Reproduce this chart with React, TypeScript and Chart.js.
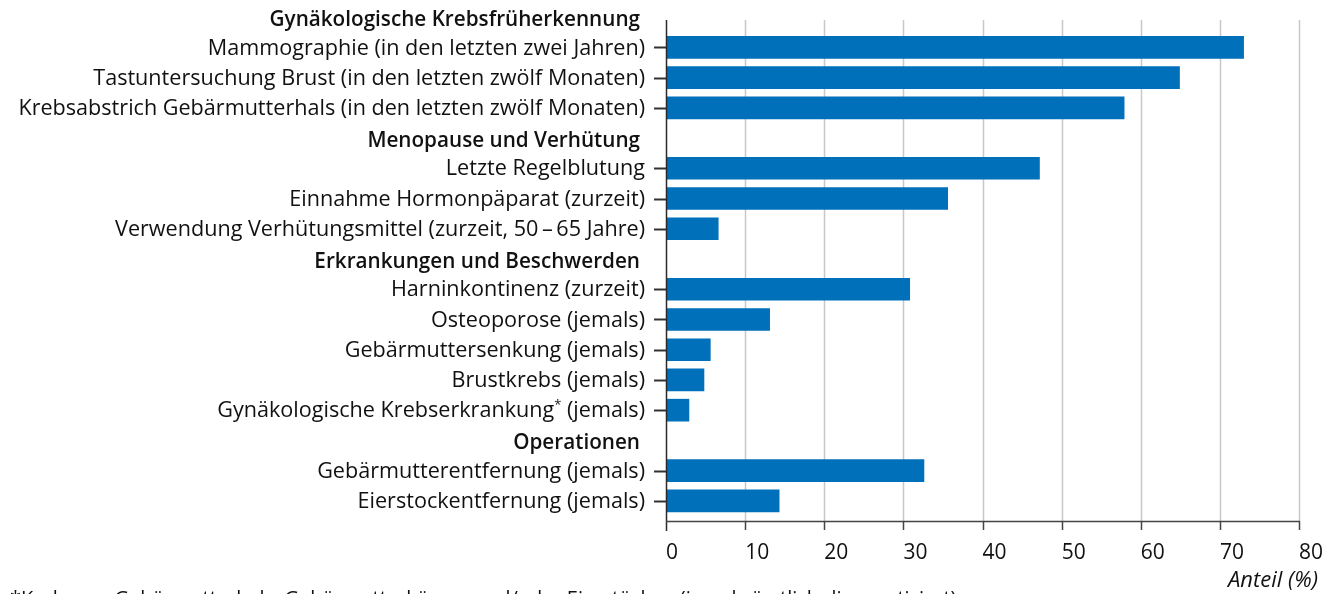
import { useEffect, useRef } from "react";
import { Chart, registerables } from "chart.js";

Chart.register(...registerables);

const categories = [
  "Gynäkologische Krebsfrüherkennung",
  "Mammographie (in den letzten zwei Jahren)",
  "Tastuntersuchung Brust (in den letzten zwölf Monaten)",
  "Krebsabstrich Gebärmutterhals (in den letzten zwölf Monaten)",
  "Menopause und Verhütung",
  "Letzte Regelblutung",
  "Einnahme Hormonpäparat (zurzeit)",
  "Verwendung Verhütungsmittel (zurzeit, 50\u2009–\u200965 Jahre)",
  "Erkrankungen und Beschwerden",
  "Harninkontinenz (zurzeit)",
  "Osteoporose (jemals)",
  "Gebärmuttersenkung (jemals)",
  "Brustkrebs (jemals)",
  "Gynäkologische Krebserkrankung* (jemals)",
  "Operationen",
  "Gebärmutterentfernung (jemals)",
  "Eierstockentfernung (jemals)",
];

const isHeader = [
  true, false, false, false,
  true, false, false, false,
  true, false, false, false, false, false,
  true, false, false,
];

const values: (number | null)[] = [
  null, 73, 64.9, 57.9,
  null, 47.2, 35.6, 6.6,
  null, 30.8, 13.1, 5.6, 4.8, 2.9,
  null, 32.6, 14.3,
];

const xTicks = [0, 10, 20, 30, 40, 50, 60, 70, 80];
const axisTitle = "Anteil (%)";
const footnote =
  "*Krebs am Gebärmutterhals, Gebärmutterkörper und/oder Eierstöcken (jemals ärztlich diagnostiziert)";

const FONT = "'Open Sans', Lato, sans-serif";
const BAR = "#0070ba";
const LABEL_SIZE = 21.6;

const decorPlugin = {
  id: "decor",
  beforeDatasetsDraw(chart: any) {
    const { ctx, chartArea } = chart;
    const xs = chart.scales.x;
    ctx.save();
    ctx.strokeStyle = "#c8c8c8";
    ctx.lineWidth = 1.5;
    for (const v of xTicks) {
      if (v === 0) continue;
      const x = Math.round(xs.getPixelForValue(v)) + 0.5;
      ctx.beginPath();
      ctx.moveTo(x, 20);
      ctx.lineTo(x, chartArea.bottom + 5);
      ctx.stroke();
    }
    ctx.restore();
  },
  afterDatasetsDraw(chart: any) {
    const { ctx, chartArea } = chart;
    const xs = chart.scales.x;
    const ys = chart.scales.y;
    const axisY = chartArea.bottom + 5;
    const left = chartArea.left;
    ctx.save();
    // axes
    ctx.strokeStyle = "#2a2a2a";
    ctx.lineWidth = 1.5;
    ctx.beginPath();
    ctx.moveTo(left + 0.5, 20);
    ctx.lineTo(left + 0.5, axisY + 10);
    ctx.stroke();
    ctx.strokeStyle = "#444";
    ctx.beginPath();
    ctx.moveTo(left, axisY + 0.5);
    ctx.lineTo(xs.getPixelForValue(80) + 1, axisY + 0.5);
    ctx.stroke();
    for (const v of xTicks) {
      if (v === 0) continue;
      const x = Math.round(xs.getPixelForValue(v)) + 0.5;
      ctx.beginPath();
      ctx.moveTo(x, axisY);
      ctx.lineTo(x, axisY + 9);
      ctx.stroke();
    }
    // category ticks and labels
    categories.forEach((label, i) => {
      const y = ys.getPixelForValue(i);
      if (isHeader[i]) {
        ctx.font = `600 20.7px ${FONT}`;
        ctx.fillStyle = "#111";
        ctx.textAlign = "right";
        ctx.textBaseline = "middle";
        ctx.fillText(label, left - 26, y + 3);
        return;
      }
      ctx.strokeStyle = "#333";
      ctx.lineWidth = 2;
      ctx.beginPath();
      ctx.moveTo(left - 12, Math.round(y) + 0.5);
      ctx.lineTo(left, Math.round(y) + 0.5);
      ctx.stroke();
      ctx.font = `${LABEL_SIZE}px ${FONT}`;
      ctx.fillStyle = "#111";
      ctx.textAlign = "right";
      ctx.textBaseline = "middle";
      const rx = left - 21;
      const star = label.indexOf("*");
      if (star >= 0) {
        const before = label.slice(0, star);
        const after = label.slice(star + 1);
        ctx.fillText(after, rx, y + 1);
        const wa = ctx.measureText(after).width;
        ctx.font = `13px ${FONT}`;
        ctx.fillText("*", rx - wa, y - 5);
        const ws = ctx.measureText("*").width;
        ctx.font = `${LABEL_SIZE}px ${FONT}`;
        ctx.fillText(before, rx - wa - ws, y + 1);
      } else {
        ctx.fillText(label, rx, y + 1);
      }
    });
    // axis title
    ctx.font = `italic 22px ${FONT}`;
    ctx.fillStyle = "#111";
    ctx.textAlign = "right";
    ctx.textBaseline = "middle";
    ctx.fillText(axisTitle, 1318, 581);
    // footnote
    ctx.font = `20px ${FONT}`;
    ctx.textAlign = "left";
    ctx.textBaseline = "top";
    ctx.fillText(footnote, 10, 589);
    ctx.restore();
  },
};

export default function App() {
  const ref = useRef<HTMLCanvasElement>(null);
  useEffect(() => {
    document.body.style.margin = "0";
    const chart = new Chart(ref.current as HTMLCanvasElement, {
      type: "bar",
      data: {
        labels: categories,
        datasets: [
          {
            data: values as any,
            backgroundColor: BAR,
            borderWidth: 0,
            barThickness: 22,
          },
        ],
      },
      options: {
        indexAxis: "y",
        animation: false,
        responsive: true,
        maintainAspectRatio: false,
        layout: { padding: { left: 666, right: 34, top: 2, bottom: 0 } },
        plugins: {
          legend: { display: false },
          tooltip: { enabled: false },
        },
        scales: {
          y: {
            display: false,
          },
          x: {
            min: 0,
            max: 80,
            grid: { display: false },
            border: { display: false },
            afterFit: (s: any) => {
              s.height = 78;
              s.paddingLeft = 0;
              s.paddingRight = 0;
            },
            ticks: {
              stepSize: 10,
              padding: 16,
              align: "start",
              color: "#111",
              font: { family: FONT, size: 21 },
            },
          },
        },
      },
      plugins: [decorPlugin],
    });
    return () => chart.destroy();
  }, []);
  return (
    <div style={{ width: 1333, height: 594, position: "relative" }}>
      <canvas ref={ref} />
    </div>
  );
}
